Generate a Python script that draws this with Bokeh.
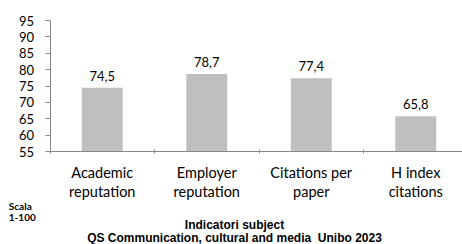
from bokeh.plotting import figure
from bokeh.models import Range1d, FixedTicker, Label, ColumnDataSource
from bokeh.embed import file_html
from bokeh.resources import INLINE
from bokeh.core.properties import value

categories = ["Academic\nreputation", "Employer\nreputation", "Citations per\npaper", "H index\ncitations"]
scores = [74.5, 78.7, 77.4, 65.8]
y_ticks = [55, 60, 65, 70, 75, 80, 85, 90, 95]
title_lines = ["Indicatori subject", "QS Communication, cultural and media\u00a0 Unibo 2023"]
scale_lines = ["Scala", "1-100"]

FONT = "Lato"
AXIS_COLOR = "#888888"
W, H = 462, 244

# pixel geometry of the plot area: x=0 at 49.5px, 104.5 px per category;
# y=55 at 151px, 3.275 px per unit
X0PX, XPX = 49.5, 104.5
Y0PX, YPX = 151.0, 3.275
YMIN, YMAX = y_ticks[0], y_ticks[-1]

def dx(px):
    return (px - X0PX) / XPX

def dy(py):
    return YMIN - (py - Y0PX) / YPX

xs = [i + 0.5 for i in range(len(categories))]
src = ColumnDataSource(dict(
    x=xs,
    top=scores,
    lab=[("%.1f" % v).replace(".", ",") for v in scores],
))

p = figure(width=W, height=H, output_backend="svg", toolbar_location=None,
           x_range=Range1d(dx(0), dx(W)), y_range=Range1d(dy(H), dy(0)),
           min_border=0)
p.outline_line_color = None
p.background_fill_color = "white"
p.border_fill_color = "white"
p.xgrid.visible = False
p.ygrid.visible = False

p.vbar(x="x", top="top", bottom=YMIN, width=0.392, source=src,
       fill_color="#BFBFBF", line_color=None)
p.text(x="x", y="top", text="lab", source=src, text_align="center",
       text_baseline="alphabetic", y_offset=-12,
       text_font=value(FONT), text_font_size="13px", text_color="black")

# y axis
ya = p.yaxis[0]
ya.fixed_location = 0
ya.bounds = (YMIN, YMAX)
ya.ticker = FixedTicker(ticks=y_ticks)
ya.axis_line_color = AXIS_COLOR
ya.major_tick_line_color = AXIS_COLOR
ya.major_tick_in = 0
ya.major_tick_out = 5
ya.minor_tick_line_color = None
ya.major_label_standoff = 11
ya.major_label_text_font = FONT
ya.major_label_text_font_size = "13px"
ya.major_label_text_color = "black"

# x axis
xa = p.xaxis[0]
xa.fixed_location = YMIN
xa.bounds = (0, len(categories))
xa.ticker = FixedTicker(ticks=xs, minor_ticks=list(range(len(categories) + 1)))
xa.major_label_overrides = {x: c for x, c in zip(xs, categories)}
xa.axis_line_color = AXIS_COLOR
xa.major_tick_line_color = None
xa.major_tick_in = 0
xa.major_tick_out = 0
xa.minor_tick_line_color = AXIS_COLOR
xa.minor_tick_in = 2
xa.minor_tick_out = 2
xa.major_label_standoff = 10
xa.major_label_text_font = FONT
xa.major_label_text_font_size = "14.5px"
xa.major_label_text_line_height = 1.15
xa.major_label_text_color = "black"

for txt, base in zip(title_lines, [224.5, 237.5]):
    p.add_layout(Label(x=dx(234), y=dy(base), text=txt, text_align="center",
                       text_baseline="alphabetic", text_font="Liberation Sans",
                       text_font_style="bold", text_font_size="12px", text_color="black"))

for txt, base in zip(scale_lines, [205.7, 217.3]):
    p.add_layout(Label(x=dx(8.3), y=dy(base), text=txt, text_align="left",
                       text_baseline="alphabetic", text_font=FONT,
                       text_font_style="bold", text_font_size="10px", text_color="black"))

open("out.html", "w").write(file_html(p, INLINE))
